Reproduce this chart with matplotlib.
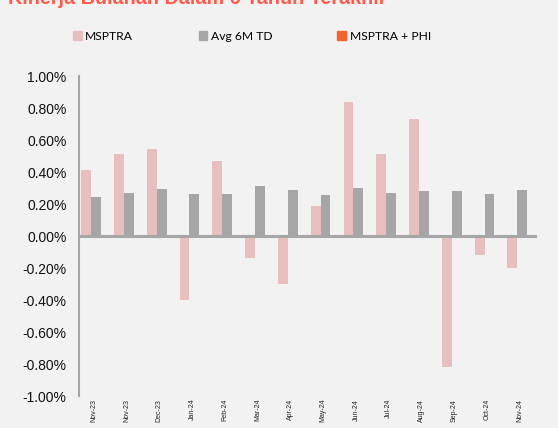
import numpy as np
import matplotlib.pyplot as plt
from matplotlib.patches import Patch

months = ['Nov-23', 'Nov-23', 'Dec-23', 'Jan-24', 'Feb-24', 'Mar-24', 'Apr-24',
          'May-24', 'Jun-24', 'Jul-24', 'Aug-24', 'Sep-24', 'Oct-24', 'Nov-24']
msptra = [0.41, 0.51, 0.545, -0.40, 0.47, -0.14, -0.30,
          0.186, 0.84, 0.51, 0.73, -0.82, -0.12, -0.20]
avg_6m_td = [0.245, 0.27, 0.295, 0.265, 0.26, 0.31, 0.285,
             0.254, 0.298, 0.267, 0.279, 0.28, 0.26, 0.285]
msptra_phi = []  # series in legend only, no bars shown

bg = '#f2f2f2'
pink = '#e8bfbf'
gray = '#a6a6a6'
orange = '#f26531'

fig = plt.figure(figsize=(5.58, 4.28), dpi=100, facecolor=bg)
ax = fig.add_axes([79/558, 1 - 396/428, (537 - 79)/558, (396 - 76)/428])
ax.set_facecolor(bg)

x = np.arange(len(months))
w = 0.3
ax.bar(x - w/2, msptra, width=w, color=pink, zorder=2)
ax.bar(x + w/2, avg_6m_td, width=w, color=gray, zorder=2)

ax.axhline(0, color=gray, linewidth=2.2, zorder=3)

ax.set_ylim(-1.0, 1.0)
ax.set_xlim(-0.37, 13.6)
yt = np.round(np.arange(-1.0, 1.01, 0.2), 2) + 0.0
ax.set_yticks(yt)
ax.set_yticklabels([f'{v:.2f}%'.replace('-0.00', '0.00') for v in yt], fontsize=10,
                   family='Liberation Sans', color='#111111')
ax.set_xticks(x + 0.08)
ax.set_xticklabels(months, rotation=90, fontsize=5, family='Liberation Sans',
                   color='#222222', va='top')
ax.tick_params(axis='both', length=0)
ax.tick_params(axis='y', pad=9)
ax.tick_params(axis='x', pad=2)

for s in ['top', 'right', 'bottom']:
    ax.spines[s].set_visible(False)
ax.spines['left'].set_color(gray)
ax.spines['left'].set_linewidth(1.5)

handles = [Patch(color=pink, label='MSPTRA'),
           Patch(color=gray, label='Avg 6M TD'),
           Patch(color=orange, label='MSPTRA + PHI')]
fig.legend(handles=handles, loc='center', bbox_to_anchor=(252/558, 1 - 36/428),
           ncol=3, frameon=False, prop={'family': 'Lato', 'size': 8.7},
           handlelength=0.7, handleheight=0.7, handletextpad=0.3,
           columnspacing=5.4)

fig.text(8/558, 1 - 4/428, 'Kinerja Bulanan Dalam 6 Tahun Terakhir',
         color='#ff5b4b', fontsize=14.2, fontweight='bold',
         family='Liberation Sans', va='baseline', ha='left')

fig.savefig('out.png', dpi=100, facecolor=bg)
